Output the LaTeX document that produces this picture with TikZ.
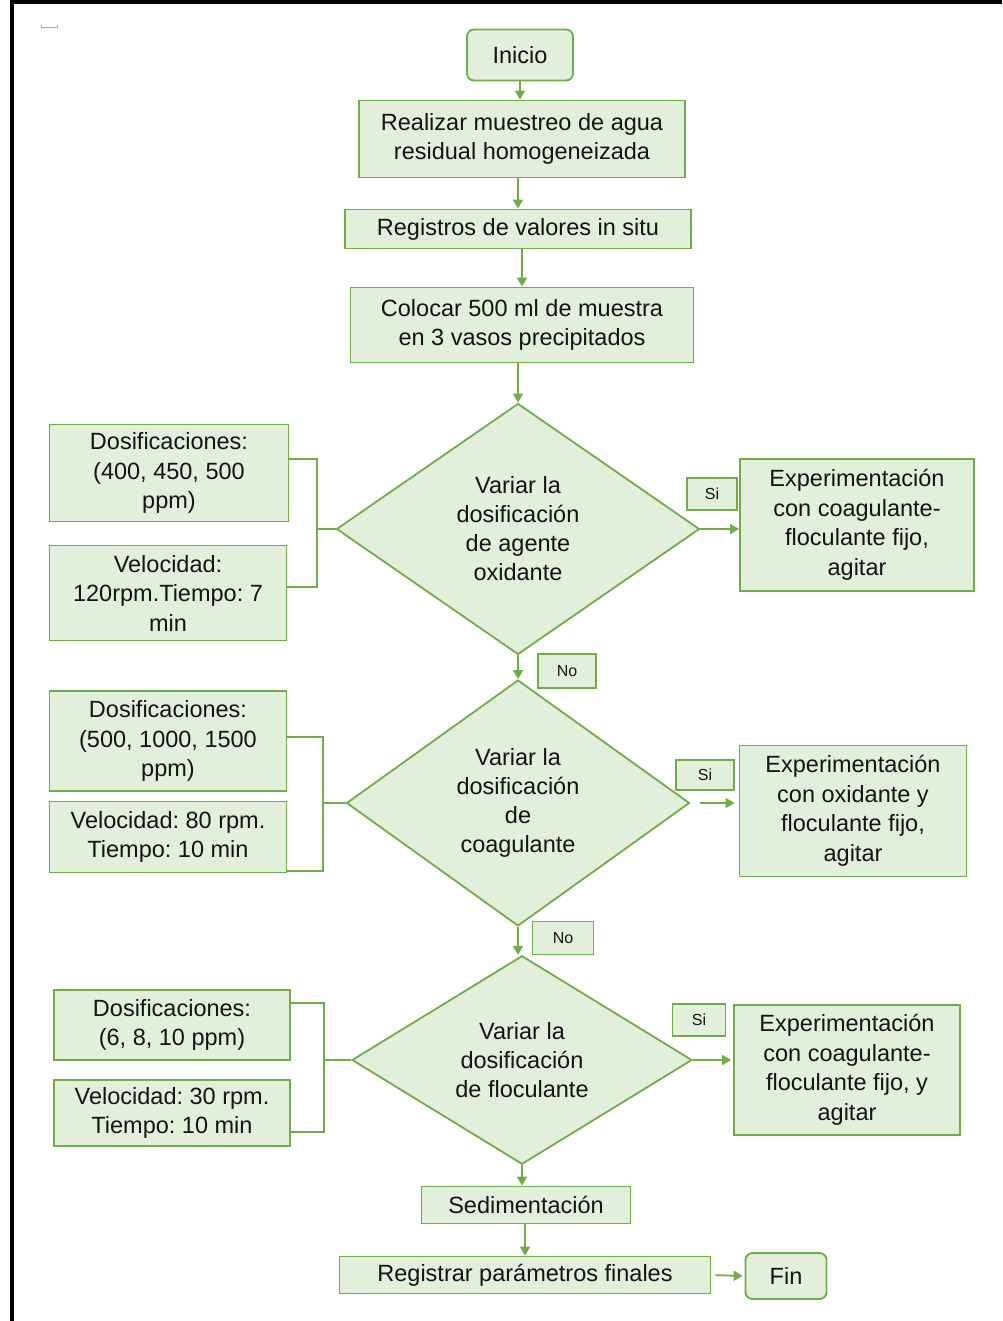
\documentclass[tikz,border=0pt]{standalone}
\usepackage{fontspec}
\setmainfont{Liberation Sans}
\usetikzlibrary{shapes.geometric,arrows.meta}
\definecolor{gline}{HTML}{70AD47}
\definecolor{gfill}{HTML}{E2EFDA}
\definecolor{ink}{HTML}{141414}
\frenchspacing
\begin{document}
\begin{tikzpicture}[x=1pt,y=-1pt,
  box/.style={draw=gline,fill=gfill,line width=1.8pt,inner sep=0pt,align=center,
    text=ink,font=\fontsize{23.5}{29.5}\selectfont},
  rbox/.style={box,rounded corners=7pt},
  tag/.style={draw=gline,fill=gfill,line width=1.8pt,inner sep=0pt,align=center,
    text=ink,font=\fontsize{16}{18}\selectfont},
  decision/.style={diamond,draw=gline,fill=gfill,line width=1.8pt,inner sep=0pt,
    align=center,text=ink,font=\fontsize{23.5}{29}\selectfont},
  conn/.style={draw=gline,line width=1.8pt},
  arr/.style={conn,-{Triangle[width=10pt,length=9pt]}}]
\useasboundingbox (0,0) rectangle (1002,1321);
\fill[white] (0,0) rectangle (1002,1321);

% frame
\draw[line width=4pt] (12,1321) -- (12,2) -- (1002,2);
\draw[gray!70,line width=1pt] (41,25) -- (41,28) -- (57,28) -- (57,25);

% main column
\node[rbox,minimum width=106pt,minimum height=51pt] (ini) at (520,55) {Inicio};
\node[box,minimum width=326pt,minimum height=77pt] (mue) at (522,139) {Realizar muestreo de agua\\residual homogeneizada};
\node[box,minimum width=346pt,minimum height=39pt] (reg1) at (518,229) {Registros de valores in situ};
\node[box,minimum width=343pt,minimum height=75pt] (col) at (522,325) {Colocar 500 ml de muestra\\en 3 vasos precipitados};

\node[decision,minimum width=363pt,minimum height=251pt] (d1) at (518,529) {Variar la\\dosificación\\de agente\\oxidante};
\node[decision,minimum width=343pt,minimum height=246pt] (d2) at (518,803) {Variar la\\dosificación\\de\\coagulante};
\node[decision,minimum width=340pt,minimum height=205pt] (d3) at (522,1060) {Variar la\\dosificación\\de floculante};

\node[box,minimum width=209pt,minimum height=37pt] (sed) at (526,1205) {Sedimentación};
\node[box,minimum width=371pt,minimum height=37pt] (reg2) at (525,1275) {Registrar parámetros finales};
\node[rbox,minimum width=81pt,minimum height=46pt] (fin) at (786,1276) {Fin};

% parameter boxes
\node[box,minimum width=239pt,minimum height=97pt] (dos1) at (169,473) {Dosificaciones:\\(400, 450, 500\\ppm)};
\node[box,minimum width=237pt,minimum height=95pt] (vel1) at (168,593) {Velocidad:\\120rpm.Tiempo: 7\\min};
\node[box,minimum width=237pt,minimum height=100pt] (dos2) at (168,741) {Dosificaciones:\\(500, 1000, 1500\\ppm)};
\node[box,minimum width=237pt,minimum height=71pt] (vel2) at (168,837) {Velocidad: 80 rpm.\\Tiempo: 10 min};
\node[box,minimum width=236pt,minimum height=70pt] (dos3) at (172,1025) {Dosificaciones:\\(6, 8, 10 ppm)};
\node[box,minimum width=236pt,minimum height=66pt] (vel3) at (172,1113) {Velocidad: 30 rpm.\\Tiempo: 10 min};

% outcome boxes
\node[box,minimum width=234pt,minimum height=132pt] (exp1) at (857,525) {Experimentación\\con coagulante-\\floculante fijo,\\agitar};
\node[box,minimum width=227pt,minimum height=131pt] (exp2) at (853,811) {Experimentación\\con oxidante y\\floculante fijo,\\agitar};
\node[box,minimum width=226pt,minimum height=130pt] (exp3) at (847,1070) {Experimentación\\con coagulante-\\floculante fijo, y\\agitar};

% answer tags
\node[tag,minimum width=50pt,minimum height=32pt] (si1) at (712,494) {Si};
\node[tag,minimum width=58pt,minimum height=30pt] (si2) at (705,775) {Si};
\node[tag,minimum width=53pt,minimum height=32pt] (si3) at (699,1020) {Si};
\node[tag,minimum width=58pt,minimum height=34pt] (no1) at (567,671) {No};
\node[tag,minimum width=61pt,minimum height=33pt] (no2) at (563,938) {No};

% main flow
\draw[arr] (ini.south) -- (ini.south |- mue.north);
\draw[arr] (mue.south -| reg1.north) -- (reg1.north);
\draw[arr] (reg1.south -| col.north) -- (col.north);
\draw[arr] (col.south -| d1.north) -- (d1.north);
\draw[arr] (d1.south) -- (d2.north);
\draw[arr] (d2.south) -- (d2.south |- d3.north);
\draw[arr] (d3.south) -- (d3.south |- sed.north);
\draw[arr] (sed.south -| reg2.north) -- (reg2.north);
\draw[arr,shorten <=4pt,shorten >=2pt] (reg2.east) -- (fin.west);

% yes branches
\draw[arr] (d1.east) -- (d1.east -| exp1.west);
\draw[arr,shorten <=10pt,shorten >=4pt] (d2.east) -- (d2.east -| exp2.west);
\draw[arr,shorten >=2pt] (d3.east) -- (d3.east -| exp3.west);

% parameter brackets
\coordinate (b1) at (317,529);
\draw[conn] ([yshift=14pt]dos1.east) -| (b1) |- ([yshift=6pt]vel1.east);
\draw[conn] (b1) -- (d1.west);
\coordinate (b2) at (323,803);
\draw[conn] ([yshift=4pt]dos2.east) -| (b2) |- ([yshift=-34pt]vel2.east);
\draw[conn] (b2) -- (d2.west);
\coordinate (b3) at (324,1060);
\draw[conn] ([yshift=22pt]dos3.east) -| (b3) |- ([yshift=-19pt]vel3.east);
\draw[conn] (b3) -- (d3.west);
\end{tikzpicture}
\end{document}
